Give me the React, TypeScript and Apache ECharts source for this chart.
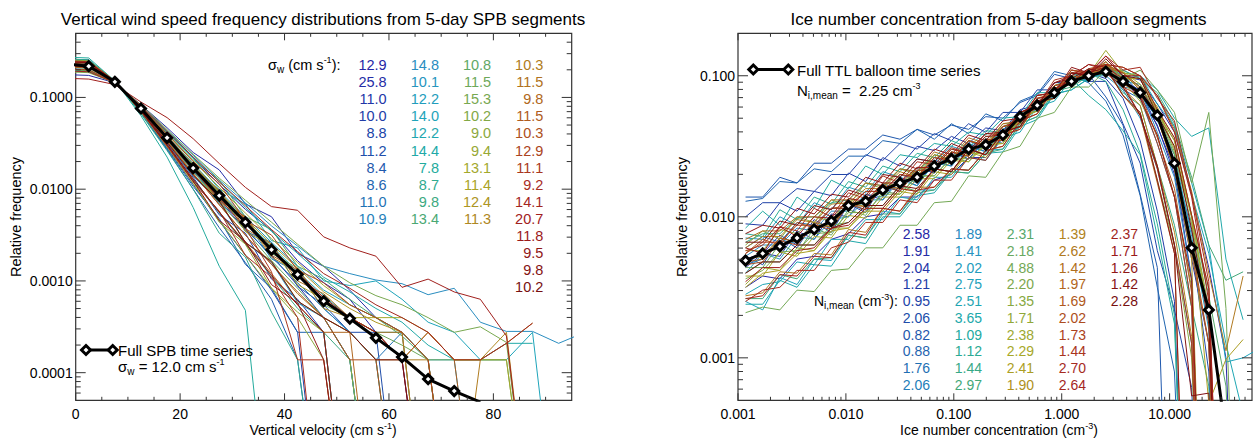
import { useEffect, useRef } from 'react';
import * as echarts from 'echarts';

const FONT = '"Liberation Sans", Arial, Helvetica, sans-serif';
const TXT = '#000';

// ---------------- Left panel: vertical wind speed (SPB) ----------------
const spbVelocityBins = [-2.5, 2.5, 7.5, 12.5, 17.5, 22.5, 27.5, 32.5, 37.5, 42.5, 47.5, 52.5, 57.5, 62.5, 67.5, 72.5, 77.5, 82.5, 87.5, 92.5, 97.5];
const spbXTickValues = [0, 20, 40, 60, 80];
const spbYTickValues = [0.0001, 0.001, 0.01, 0.1];
const spbYTickLabels = ['0.0001', '0.0010', '0.0100', '0.1000'];
const spbSigmaW = [
  12.9, 25.8, 11.0, 10.0, 8.8, 11.2, 8.4, 8.6, 11.0, 10.9,
  14.8, 10.1, 12.2, 14.0, 12.2, 14.4, 7.8, 8.7, 9.8, 13.4,
  10.8, 11.5, 15.3, 10.2, 9.0, 9.4, 13.1, 11.4, 12.4, 11.3,
  10.3, 11.5, 9.8, 11.5, 10.3, 12.9, 11.1, 9.2, 14.1, 20.7, 11.8, 9.5, 9.8, 10.2,
];
const spbFullSigma = 12.0;
// log10(relative frequency); -6 = below plotted range
const spbFullLog10 = [-0.63, -0.66, -0.83, -1.12, -1.44, -1.77, -2.07, -2.36, -2.66, -2.93, -3.22, -3.41, -3.62, -3.83, -4.07, -4.20, -4.32];
const spbSegmentsLog10 = [
  [-0.68, -0.70, -0.83, -1.10, -1.38, -1.66, -1.95, -2.22, -2.45, -2.78, -3.02, -3.20, -3.56, -3.86, -6],
  [-0.75, -0.76, -0.84, -1.08, -1.33, -1.60, -1.79, -2.16, -2.30, -2.70, -2.84, -3.10, -3.40, -3.56, -3.86, -6],
  [-0.65, -0.66, -0.83, -1.13, -1.46, -1.80, -2.12, -2.44, -2.72, -3.05, -3.40, -3.86, -6],
  [-0.62, -0.63, -0.83, -1.14, -1.50, -1.87, -2.28, -2.48, -2.98, -3.20, -3.56, -6],
  [-0.59, -0.60, -0.82, -1.16, -1.55, -1.95, -2.35, -2.72, -3.10, -3.56, -6],
  [-0.66, -0.67, -0.83, -1.12, -1.45, -1.78, -2.02, -2.46, -2.58, -3.06, -3.26, -3.56, -3.56, -6],
  [-0.58, -0.59, -0.82, -1.17, -1.57, -2.00, -2.42, -2.80, -3.20, -3.86, -6],
  [-0.60, -0.60, -0.82, -1.16, -1.56, -1.97, -2.32, -2.82, -3.08, -3.56, -3.56, -6],
  [-0.65, -0.66, -0.83, -1.12, -1.47, -1.80, -2.10, -2.42, -2.74, -3.02, -3.30, -3.56, -3.86, -3.56, -6],
  [-0.65, -0.66, -0.83, -1.13, -1.46, -1.78, -2.16, -2.34, -2.76, -2.90, -3.30, -3.56, -3.86, -6],
  [-0.71, -0.72, -0.84, -1.09, -1.36, -1.63, -1.90, -2.15, -2.40, -2.62, -2.84, -2.92, -2.99, -3.03, -3.15, -3.08, -3.45, -3.55, -3.55, -3.68, -3.56],
  [-0.62, -0.63, -0.83, -1.14, -1.50, -1.86, -2.14, -2.58, -2.80, -3.24, -3.40, -3.86, -6],
  [-0.67, -0.68, -0.83, -1.11, -1.42, -1.72, -2.02, -2.30, -2.58, -2.84, -3.10, -3.26, -3.40, -3.56, -3.86, -3.86, -6],
  [-0.70, -0.71, -0.84, -1.10, -1.38, -1.66, -2.00, -2.16, -2.56, -2.64, -3.00, -3.05, -3.00, -3.20, -3.45, -3.56, -3.86, -3.86, -3.56, -6],
  [-0.67, -0.68, -0.83, -1.11, -1.43, -1.74, -2.04, -2.34, -2.62, -2.90, -3.16, -3.40, -3.56, -3.56, -3.86, -6],
  [-0.71, -0.72, -0.84, -1.10, -1.38, -1.65, -1.92, -2.20, -2.46, -2.70, -2.96, -3.12, -3.30, -3.45, -3.70, -3.86, -3.86, -3.68, -3.68],
  [-0.56, -0.57, -0.82, -1.20, -1.65, -2.20, -2.84, -3.32, -6],
  [-0.58, -0.59, -0.82, -1.18, -1.58, -2.00, -2.48, -2.74, -3.34, -3.86, -6],
  [-0.61, -0.62, -0.83, -1.15, -1.52, -1.90, -2.26, -2.60, -2.95, -3.30, -3.56, -3.86, -6],
  [-0.70, -0.71, -0.84, -1.10, -1.39, -1.68, -1.90, -2.30, -2.44, -2.84, -2.98, -3.20, -3.40, -3.60, -3.86, -6],
  [-0.64, -0.65, -0.83, -1.13, -1.47, -1.81, -2.14, -2.45, -2.78, -3.08, -3.40, -3.56, -3.86, -6],
  [-0.66, -0.67, -0.83, -1.12, -1.44, -1.76, -2.12, -2.30, -2.70, -2.86, -3.26, -3.40, -3.56, -3.70, -3.86, -3.86, -3.86, -3.86, -6],
  [-0.72, -0.73, -0.84, -1.08, -1.35, -1.62, -1.88, -2.12, -2.36, -2.60, -2.84, -3.02, -3.16, -3.26, -3.40, -3.56, -3.50, -3.67, -6],
  [-0.63, -0.64, -0.83, -1.13, -1.48, -1.84, -2.12, -2.58, -2.78, -3.22, -3.40, -3.86, -6],
  [-0.59, -0.60, -0.82, -1.16, -1.54, -1.94, -2.34, -2.72, -3.08, -3.40, -3.86, -6],
  [-0.60, -0.61, -0.82, -1.15, -1.53, -1.92, -2.36, -2.60, -3.08, -3.34, -3.56, -6],
  [-0.69, -0.70, -0.84, -1.10, -1.40, -1.69, -1.98, -2.26, -2.54, -2.80, -3.05, -3.26, -3.40, -3.40, -3.56, -3.86, -3.86, -3.86, -6],
  [-0.65, -0.66, -0.83, -1.12, -1.45, -1.78, -2.03, -2.46, -2.62, -3.04, -3.20, -3.40, -3.40, -3.56, -6],
  [-0.67, -0.68, -0.83, -1.11, -1.42, -1.73, -2.03, -2.32, -2.60, -2.86, -3.12, -3.30, -3.45, -3.56, -3.86, -6],
  [-0.66, -0.67, -0.83, -1.12, -1.45, -1.77, -2.14, -2.32, -2.74, -2.90, -3.30, -3.40, -3.56, -3.86, -3.56, -3.86, -3.86, -3.56, -6],
  [-0.63, -0.64, -0.83, -1.13, -1.48, -1.83, -2.17, -2.50, -2.82, -3.14, -3.40, -3.56, -3.86, -3.86, -3.86, -6, -3.86, -3.68, -3.46],
  [-0.66, -0.67, -0.83, -1.12, -1.44, -1.76, -2.01, -2.43, -2.60, -3.00, -3.14, -3.40, -3.56, -3.56, -6],
  [-0.61, -0.62, -0.83, -1.15, -1.52, -1.89, -2.25, -2.58, -2.92, -3.26, -3.56, -3.56, -6],
  [-0.66, -0.67, -0.83, -1.12, -1.44, -1.76, -2.12, -2.30, -2.72, -2.88, -3.22, -3.40, -3.56, -3.86, -3.56, -3.86, -6],
  [-0.63, -0.64, -0.83, -1.13, -1.48, -1.83, -2.17, -2.50, -2.82, -3.12, -3.40, -3.86, -3.86, -6],
  [-0.69, -0.70, -0.84, -1.10, -1.40, -1.70, -1.94, -2.34, -2.50, -2.88, -3.02, -3.26, -3.40, -3.56, -3.86, -6],
  [-0.65, -0.66, -0.83, -1.12, -1.46, -1.79, -2.10, -2.42, -2.90, -3.86, -3.86, -6],
  [-0.60, -0.61, -0.82, -1.15, -1.53, -1.92, -2.24, -2.72, -2.96, -3.40, -6],
  [-0.71, -0.72, -0.84, -1.09, -1.37, -1.65, -1.92, -2.18, -2.44, -2.68, -2.92, -3.08, -3.26, -3.40, -3.56, -3.86, -3.86, -3.68, -3.46],
  [-0.79, -0.80, -0.86, -1.05, -1.22, -1.45, -1.72, -1.98, -2.19, -2.23, -2.52, -2.64, -2.73, -3.07, -2.98, -3.12, -3.20, -3.60, -6],
  [-0.66, -0.67, -0.83, -1.12, -1.44, -1.76, -2.06, -2.36, -2.65, -2.92, -3.18, -3.40, -3.56, -3.86, -6],
  [-0.61, -0.62, -0.82, -1.15, -1.52, -1.91, -2.34, -2.57, -3.04, -3.24, -3.86, -6],
  [-0.61, -0.62, -0.83, -1.15, -1.51, -1.89, -2.25, -2.59, -2.94, -3.26, -3.56, -6],
  [-0.63, -0.64, -0.83, -1.14, -1.49, -1.85, -2.13, -2.58, -2.79, -3.22, -3.40, -3.56, -3.86, -3.86, -6],
];

// ---------------- Right panel: ice number concentration (TTL) ----------------
const ttlConcBins = [
  0.001175, 0.001694, 0.002443, 0.003524, 0.005082, 0.007328, 0.01057, 0.01524, 0.02198, 0.0317,
  0.04571, 0.06592, 0.09506, 0.1371, 0.1977, 0.2851, 0.4111, 0.5929, 0.8551, 1.233,
  1.778, 2.564, 3.698, 5.333, 7.691, 11.09, 16.0, 23.07, 33.27, 47.97, 69.18,
];
const ttlXTickValues = [0.001, 0.01, 0.1, 1, 10];
const ttlXTickLabels = ['0.001', '0.010', '0.100', '1.000', '10.000'];
const ttlYTickValues = [0.001, 0.01, 0.1];
const ttlYTickLabels = ['0.001', '0.010', '0.100'];
const ttlNmean = [
  2.58, 1.91, 2.04, 1.21, 0.95, 2.06, 0.82, 0.88, 1.76, 2.06,
  1.89, 1.41, 2.02, 2.75, 2.51, 3.65, 1.09, 1.12, 1.44, 2.97,
  2.31, 2.18, 4.88, 2.20, 1.35, 1.71, 2.38, 2.29, 2.41, 1.90,
  1.39, 2.62, 1.42, 1.97, 1.69, 2.02, 1.73, 1.44, 2.70, 2.64,
  2.37, 1.71, 1.26, 1.42, 2.28,
];
const ttlFullNmean = 2.25;
const ttlFullLog10 = [-2.31, -2.26, -2.21, -2.15, -2.09, -2.03, -1.92, -1.89, -1.81, -1.76, -1.72, -1.64, -1.59, -1.52, -1.49, -1.42, -1.29, -1.21, -1.12, -1.04, -1.00, -0.97, -1.04, -1.12, -1.28, -1.62, -2.22, -2.66, -3.55];
const ttlSegmentsLog10 = [
  [-2.50, -2.42, -2.44, -2.30, -2.28, -2.16, -2.12, -2.00, -1.98, -1.86, -1.86, -1.74, -1.70, -1.58, -1.58, -1.44, -1.36, -1.22, -1.14, -1.02, -1.00, -0.93, -1.00, -1.03, -1.20, -1.40, -1.84, -2.36, -3.00, -6],
  [-2.30, -2.26, -2.13, -2.20, -2.02, -2.09, -1.91, -1.95, -1.78, -1.82, -1.65, -1.69, -1.54, -1.59, -1.45, -1.46, -1.28, -1.23, -1.09, -1.06, -0.98, -0.96, -1.04, -1.15, -1.35, -1.70, -2.30, -2.90, -6],
  [-2.36, -2.26, -2.28, -2.10, -2.16, -1.98, -2.00, -1.84, -1.88, -1.72, -1.78, -1.60, -1.64, -1.48, -1.54, -1.38, -1.34, -1.18, -1.14, -1.00, -1.02, -0.95, -1.04, -1.10, -1.36, -1.66, -2.44, -6],
  [-2.05, -2.06, -1.90, -1.96, -1.82, -1.85, -1.69, -1.75, -1.58, -1.64, -1.50, -1.53, -1.43, -1.48, -1.37, -1.39, -1.24, -1.21, -1.05, -1.04, -0.98, -1.02, -1.16, -1.46, -1.96, -2.60, -6],
  [-2.00, -1.90, -1.90, -1.80, -1.82, -1.70, -1.70, -1.56, -1.60, -1.48, -1.52, -1.41, -1.46, -1.34, -1.40, -1.26, -1.26, -1.10, -1.10, -0.98, -1.04, -1.04, -1.34, -1.62, -2.24, -2.66, -3.21, -6],
  [-2.28, -2.34, -2.15, -2.22, -2.04, -2.11, -1.91, -1.97, -1.76, -1.82, -1.65, -1.69, -1.54, -1.59, -1.45, -1.48, -1.28, -1.23, -1.09, -1.04, -1.00, -0.95, -1.00, -1.12, -1.30, -1.62, -2.20, -3.10, -6],
  [-1.86, -1.86, -1.72, -1.76, -1.62, -1.62, -1.52, -1.52, -1.42, -1.45, -1.38, -1.42, -1.35, -1.38, -1.29, -1.30, -1.19, -1.14, -0.99, -1.02, -0.99, -1.15, -1.35, -1.84, -2.36, -6],
  [-1.89, -1.87, -1.75, -1.76, -1.66, -1.68, -1.57, -1.57, -1.46, -1.48, -1.38, -1.45, -1.34, -1.41, -1.27, -1.32, -1.18, -1.13, -0.97, -1.00, -1.05, -1.18, -1.42, -1.85, -2.50, -3.10, -6],
  [-2.22, -2.14, -2.18, -2.04, -2.06, -1.94, -1.94, -1.82, -1.82, -1.70, -1.74, -1.58, -1.62, -1.46, -1.52, -1.36, -1.34, -1.16, -1.14, -0.98, -1.00, -0.95, -1.10, -1.16, -1.48, -1.86, -2.64, -6],
  [-2.34, -2.30, -2.17, -2.18, -2.06, -2.07, -1.91, -1.95, -1.78, -1.80, -1.67, -1.67, -1.56, -1.57, -1.45, -1.46, -1.28, -1.25, -1.09, -1.06, -1.00, -0.97, -1.02, -1.14, -1.30, -1.62, -2.10, -2.70, -6],
  [-2.28, -2.20, -2.20, -2.08, -2.10, -1.96, -1.96, -1.84, -1.86, -1.72, -1.76, -1.60, -1.62, -1.48, -1.52, -1.38, -1.36, -1.18, -1.16, -1.00, -1.02, -0.95, -1.08, -1.10, -1.40, -1.72, -2.44, -6],
  [-2.15, -2.16, -2.00, -2.06, -1.90, -1.95, -1.79, -1.83, -1.68, -1.72, -1.59, -1.61, -1.50, -1.54, -1.43, -1.44, -1.28, -1.25, -1.09, -1.06, -1.00, -1.00, -1.10, -1.30, -1.66, -2.20, -2.90, -6],
  [-2.40, -2.26, -2.30, -2.14, -2.16, -2.02, -2.00, -1.88, -1.88, -1.74, -1.78, -1.62, -1.64, -1.50, -1.54, -1.38, -1.36, -1.18, -1.16, -1.00, -1.04, -0.92, -1.04, -1.06, -1.32, -1.56, -2.14, -2.80, -6],
  [-2.60, -2.66, -2.43, -2.48, -2.30, -2.31, -2.13, -2.15, -1.96, -1.98, -1.81, -1.81, -1.66, -1.67, -1.53, -1.52, -1.34, -1.29, -1.13, -1.10, -1.02, -0.98, -0.96, -1.02, -1.14, -1.36, -1.76, -2.20, -3.03, -3.00, -2.93],
  [-2.55, -2.48, -2.46, -2.32, -2.34, -2.16, -2.16, -2.02, -2.02, -1.86, -1.88, -1.72, -1.72, -1.58, -1.60, -1.44, -1.40, -1.22, -1.18, -1.02, -1.04, -0.92, -1.02, -1.00, -1.20, -1.36, -1.84, -2.26, -2.90, -3.40],
  [-2.62, -2.62, -2.45, -2.50, -2.34, -2.35, -2.17, -2.19, -2.00, -2.00, -1.85, -1.83, -1.68, -1.69, -1.55, -1.54, -1.36, -1.31, -1.13, -1.10, -1.02, -0.98, -0.98, -1.00, -1.10, -1.30, -1.43, -1.37, -2.30, -2.73],
  [-2.08, -1.96, -2.06, -1.86, -1.94, -1.74, -1.80, -1.64, -1.70, -1.56, -1.58, -1.48, -1.50, -1.40, -1.42, -1.30, -1.29, -1.12, -1.12, -1.02, -1.14, -1.24, -1.39, -1.56, -2.14, -2.76, -6],
  [-2.12, -2.14, -1.95, -2.02, -1.86, -1.91, -1.75, -1.79, -1.64, -1.68, -1.55, -1.58, -1.46, -1.51, -1.39, -1.40, -1.26, -1.23, -1.07, -1.02, -0.98, -1.04, -1.24, -1.55, -2.05, -2.70, -6],
  [-2.18, -2.12, -2.12, -2.01, -2.00, -1.90, -1.88, -1.76, -1.78, -1.66, -1.68, -1.56, -1.59, -1.46, -1.50, -1.36, -1.36, -1.18, -1.16, -0.98, -1.02, -0.96, -1.12, -1.21, -1.64, -2.06, -2.64, -3.20, -6],
  [-2.58, -2.58, -2.41, -2.44, -2.30, -2.29, -2.13, -2.15, -1.98, -1.98, -1.83, -1.81, -1.68, -1.69, -1.55, -1.52, -1.34, -1.29, -1.11, -1.08, -1.00, -0.96, -0.96, -1.02, -1.12, -1.34, -1.72, -2.20, -2.45, -2.39],
  [-2.40, -2.32, -2.32, -2.20, -2.20, -2.06, -2.04, -1.92, -1.92, -1.78, -1.82, -1.66, -1.68, -1.52, -1.56, -1.40, -1.36, -1.18, -1.16, -1.00, -1.02, -0.90, -1.02, -1.02, -1.26, -1.46, -1.99, -2.56, -3.20, -6],
  [-2.36, -2.36, -2.19, -2.26, -2.08, -2.13, -1.95, -1.99, -1.82, -1.84, -1.71, -1.71, -1.58, -1.61, -1.47, -1.48, -1.30, -1.25, -1.09, -1.06, -0.98, -0.95, -1.00, -1.08, -1.26, -1.56, -2.05, -2.70, -6],
  [-2.68, -2.64, -2.66, -2.52, -2.53, -2.38, -2.37, -2.22, -2.22, -2.06, -2.06, -1.90, -1.89, -1.71, -1.72, -1.54, -1.50, -1.30, -1.26, -1.08, -1.08, -0.96, -1.02, -0.96, -1.10, -1.26, -1.76, -1.26, -2.65, -6],
  [-2.44, -2.38, -2.25, -2.24, -2.12, -2.11, -1.97, -1.97, -1.84, -1.84, -1.71, -1.71, -1.58, -1.59, -1.49, -1.48, -1.28, -1.25, -1.09, -1.06, -0.98, -0.94, -0.98, -1.08, -1.24, -1.54, -2.00, -2.65, -6],
  [-2.20, -2.10, -2.16, -2.00, -2.04, -1.88, -1.92, -1.76, -1.80, -1.66, -1.70, -1.56, -1.60, -1.46, -1.50, -1.34, -1.34, -1.18, -1.14, -0.98, -1.00, -0.94, -1.14, -1.26, -1.74, -2.21, -3.00, -6],
  [-2.24, -2.24, -2.09, -2.12, -2.00, -2.03, -1.87, -1.91, -1.76, -1.78, -1.65, -1.65, -1.52, -1.55, -1.43, -1.44, -1.26, -1.23, -1.07, -1.04, -0.98, -0.96, -1.04, -1.18, -1.42, -1.86, -2.50, -6],
  [-2.48, -2.36, -2.38, -2.22, -2.24, -2.08, -2.08, -1.94, -1.94, -1.80, -1.82, -1.66, -1.68, -1.54, -1.56, -1.40, -1.36, -1.18, -1.14, -0.98, -0.99, -0.82, -0.98, -1.00, -1.24, -1.44, -1.99, -2.51, -6],
  [-2.42, -2.42, -2.25, -2.28, -2.14, -2.15, -1.99, -2.01, -1.86, -1.86, -1.73, -1.73, -1.60, -1.61, -1.49, -1.48, -1.30, -1.25, -1.09, -1.04, -0.96, -0.93, -0.97, -1.06, -1.22, -1.52, -2.00, -2.70, -6],
  [-2.50, -2.40, -2.38, -2.26, -2.24, -2.10, -2.08, -1.96, -1.96, -1.82, -1.84, -1.68, -1.70, -1.54, -1.58, -1.42, -1.38, -1.20, -1.16, -1.00, -1.02, -0.90, -1.02, -1.02, -1.26, -1.46, -2.00, -3.32, -3.01, -2.87],
  [-2.30, -2.28, -2.15, -2.18, -2.04, -2.07, -1.89, -1.93, -1.78, -1.80, -1.65, -1.67, -1.54, -1.57, -1.45, -1.46, -1.28, -1.23, -1.07, -1.04, -0.96, -0.92, -0.98, -1.10, -1.30, -1.66, -2.30, -6],
  [-2.22, -2.14, -2.14, -2.02, -2.04, -1.91, -1.90, -1.80, -1.80, -1.68, -1.72, -1.56, -1.60, -1.46, -1.49, -1.36, -1.34, -1.16, -1.14, -0.96, -0.98, -0.94, -1.09, -1.21, -1.64, -2.11, -2.85, -6],
  [-2.56, -2.54, -2.39, -2.40, -2.26, -2.27, -2.09, -2.11, -1.94, -1.96, -1.79, -1.79, -1.66, -1.67, -1.53, -1.50, -1.32, -1.27, -1.09, -1.04, -0.96, -0.92, -0.94, -1.00, -1.14, -1.38, -1.82, -2.40, -2.95, -2.42],
  [-2.16, -2.10, -2.10, -2.00, -2.00, -1.88, -1.88, -1.76, -1.78, -1.66, -1.68, -1.54, -1.58, -1.44, -1.48, -1.34, -1.32, -1.16, -1.12, -0.96, -0.99, -0.95, -1.14, -1.28, -1.76, -2.26, -6],
  [-2.32, -2.30, -2.15, -2.18, -2.06, -2.07, -1.91, -1.93, -1.78, -1.80, -1.67, -1.67, -1.54, -1.57, -1.45, -1.46, -1.28, -1.23, -1.07, -1.04, -0.96, -0.94, -0.98, -1.10, -1.30, -1.66, -2.26, -2.90, -6],
  [-2.26, -2.16, -2.20, -2.04, -2.08, -1.94, -1.92, -1.82, -1.82, -1.70, -1.72, -1.58, -1.60, -1.46, -1.50, -1.36, -1.32, -1.14, -1.12, -0.96, -0.98, -0.90, -1.06, -1.12, -1.44, -1.80, -2.54, -6],
  [-2.34, -2.32, -2.17, -2.20, -2.06, -2.09, -1.91, -1.95, -1.78, -1.82, -1.67, -1.67, -1.54, -1.57, -1.45, -1.46, -1.28, -1.23, -1.07, -1.04, -0.95, -0.92, -0.98, -1.08, -1.28, -1.64, -2.20, -2.90, -6],
  [-2.26, -2.18, -2.18, -2.06, -2.06, -1.94, -1.94, -1.82, -1.82, -1.70, -1.72, -1.58, -1.60, -1.46, -1.50, -1.36, -1.32, -1.14, -1.12, -0.96, -0.98, -0.92, -1.08, -1.14, -1.48, -1.86, -2.64, -6],
  [-2.24, -2.20, -2.07, -2.10, -1.94, -2.00, -1.83, -1.87, -1.71, -1.76, -1.61, -1.63, -1.51, -1.55, -1.41, -1.42, -1.26, -1.21, -1.03, -1.00, -0.92, -0.96, -1.06, -1.28, -1.66, -2.20, -2.90, -6],
  [-2.60, -2.52, -2.50, -2.38, -2.38, -2.22, -2.18, -2.04, -2.04, -1.88, -1.90, -1.74, -1.74, -1.58, -1.60, -1.42, -1.38, -1.18, -1.14, -0.98, -0.98, -0.86, -0.96, -0.94, -1.16, -1.32, -1.84, -2.46, -6],
  [-2.58, -2.56, -2.41, -2.42, -2.28, -2.29, -2.11, -2.13, -1.94, -1.96, -1.81, -1.79, -1.66, -1.67, -1.53, -1.50, -1.32, -1.27, -1.09, -1.04, -0.96, -0.92, -0.94, -1.00, -1.14, -1.40, -1.86, -2.60, -6],
  [-2.46, -2.36, -2.36, -2.24, -2.22, -2.08, -2.06, -1.94, -1.94, -1.80, -1.82, -1.66, -1.68, -1.52, -1.56, -1.40, -1.36, -1.16, -1.14, -0.98, -0.99, -0.86, -1.00, -1.00, -1.24, -1.44, -1.99, -2.51, -6],
  [-2.22, -2.26, -2.07, -2.14, -2.00, -2.01, -1.87, -1.89, -1.76, -1.76, -1.65, -1.65, -1.52, -1.55, -1.43, -1.42, -1.26, -1.21, -1.05, -1.00, -0.92, -0.94, -1.02, -1.16, -1.42, -1.86, -2.45, -6],
  [-2.12, -2.06, -2.08, -1.94, -1.98, -1.84, -1.86, -1.72, -1.76, -1.62, -1.66, -1.52, -1.56, -1.42, -1.46, -1.32, -1.30, -1.14, -1.12, -0.94, -0.98, -0.94, -1.14, -1.26, -1.74, -2.26, -6],
  [-2.18, -2.18, -2.03, -2.06, -1.92, -1.95, -1.81, -1.85, -1.70, -1.72, -1.59, -1.61, -1.48, -1.53, -1.41, -1.40, -1.26, -1.21, -1.05, -1.02, -0.95, -0.98, -1.08, -1.28, -1.64, -2.20, -3.27, -3.25, -6],
  [-2.40, -2.32, -2.32, -2.20, -2.20, -2.08, -2.04, -1.92, -1.92, -1.78, -1.80, -1.66, -1.68, -1.52, -1.56, -1.40, -1.36, -1.18, -1.16, -0.98, -1.00, -0.88, -1.00, -1.02, -1.28, -1.50, -2.09, -2.76, -6],
];

// ---------------- styling helpers ----------------
const STOPS: [number, string][] = [
  [0.0, '#2626a6'], [0.1, '#2046a8'], [0.18, '#1e6eb2'], [0.23, '#2a8cc0'], [0.3, '#1ea4bb'],
  [0.37, '#22ab9e'], [0.44, '#48a874'], [0.47, '#66a862'], [0.55, '#88a840'], [0.62, '#aaa826'],
  [0.68, '#b08420'], [0.76, '#b06020'], [0.85, '#a83020'], [0.92, '#a01c1c'], [1.0, '#781010'],
];
function hexRgb(h: string) {
  return [parseInt(h.slice(1, 3), 16), parseInt(h.slice(3, 5), 16), parseInt(h.slice(5, 7), 16)];
}
function colorAt(i: number, n: number) {
  const t = n > 1 ? i / (n - 1) : 0;
  for (let s = 1; s < STOPS.length; s++) {
    if (t <= STOPS[s][0] + 1e-9) {
      const [t0, c0] = STOPS[s - 1];
      const [t1, c1] = STOPS[s];
      const f = (t - t0) / (t1 - t0);
      const a = hexRgb(c0), b = hexRgb(c1);
      return `rgb(${Math.round(a[0] + (b[0] - a[0]) * f)},${Math.round(a[1] + (b[1] - a[1]) * f)},${Math.round(a[2] + (b[2] - a[2]) * f)})`;
    }
  }
  return STOPS[STOPS.length - 1][1];
}
function logMinor(min: number, max: number) {
  const out: number[] = [];
  for (let e = Math.floor(Math.log10(min)) - 1; e <= Math.ceil(Math.log10(max)); e++) {
    for (let m = 2; m <= 9; m++) {
      const v = m * Math.pow(10, e);
      if (v > min * 1.0001 && v < max * 0.9999) out.push(v);
    }
  }
  return out;
}
function labelFor(values: number[], labels: string[]) {
  return (v: number) => {
    for (let i = 0; i < values.length; i++) {
      if (Math.abs(v - values[i]) <= Math.abs(values[i]) * 1e-6 + 1e-12) return labels[i];
    }
    return '';
  };
}

const L = { left: 75.7, top: 33.3, width: 496, height: 367, xr: [0, 95] as [number, number], yr: [5e-5, 0.5] as [number, number] };
const R = { left: 738, top: 33.3, width: 517.8, height: 367, xr: [0.001, 58] as [number, number], yr: [5e-4, 0.2] as [number, number] };

function tickSeries(idx: number, xr: [number, number], yr: [number, number], xMaj: number[], xMin: number[], yMaj: number[], yMin: number[]) {
  const items: number[][] = [];
  xMaj.forEach((v) => items.push([xr[0], yr[0], v, 0, 1]));
  xMin.forEach((v) => items.push([xr[0], yr[0], v, 0, 0]));
  yMaj.forEach((v) => items.push([xr[0], yr[0], v, 1, 1]));
  yMin.forEach((v) => items.push([xr[0], yr[0], v, 1, 0]));
  return {
    type: 'custom', xAxisIndex: idx, yAxisIndex: idx, silent: true, z: 6, clip: false,
    encode: { x: 0, y: 1 }, data: items,
    renderItem: (_p: any, api: any) => {
      const v = api.value(2);
      const isY = api.value(3) === 1;
      const major = api.value(4) === 1;
      const style = { stroke: '#333', lineWidth: 1 };
      if (!isY) {
        const len = major ? 7 : 3.5;
        const b = api.coord([v, yr[0]]);
        const t = api.coord([v, yr[1]]);
        return { type: 'group', children: [
          { type: 'line', shape: { x1: b[0], y1: b[1], x2: b[0], y2: b[1] - len }, style },
          { type: 'line', shape: { x1: t[0], y1: t[1], x2: t[0], y2: t[1] + len }, style },
        ] };
      }
      const len = major ? 10 : 5;
      const l = api.coord([xr[0], v]);
      const r = api.coord([xr[1], v]);
      return { type: 'group', children: [
        { type: 'line', shape: { x1: l[0], y1: l[1], x2: l[0] + len, y2: l[1] }, style },
        { type: 'line', shape: { x1: r[0], y1: r[1], x2: r[0] - len, y2: r[1] }, style },
      ] };
    },
  };
}

function txt(x: number, y: number, text: string, size: number, opts: any = {}) {
  const fill = opts.color || TXT;
  return {
    type: 'text', x, y, rotation: opts.rotation || 0, silent: true, z: 100,
    style: {
      text, fill, fontSize: size, fontFamily: FONT,
      align: opts.align || 'left', textAlign: opts.align || 'left',
      verticalAlign: 'middle', textVerticalAlign: 'middle',
      lineHeight: size + 4,
      rich: {
        sup: { fontSize: Math.round(size * 0.62), fontFamily: FONT, fill, color: fill, verticalAlign: 'top', lineHeight: size * 0.7 },
        sub: { fontSize: Math.round(size * 0.68), fontFamily: FONT, fill, color: fill, verticalAlign: 'bottom', lineHeight: size * 0.7 },
      },
    },
  };
}
function diamond(cx: number, cy: number, r: number) {
  return { type: 'polygon', silent: true, z: 101, shape: { points: [[cx, cy - r], [cx + r, cy], [cx, cy + r], [cx - r, cy]] }, style: { fill: '#fff', stroke: '#000', lineWidth: 3 } };
}

function axisLabelStyle(formatter: any, margin: number) {
  return { formatter, fontSize: 14, color: TXT, fontFamily: FONT, margin, showMinLabel: true, showMaxLabel: true };
}

export default function App() {
  const ref = useRef<HTMLDivElement>(null);
  useEffect(() => {
    if (!ref.current) return;
    const chart = echarts.init(ref.current, undefined, { renderer: 'svg' });

    const spbSeries: any[] = spbSegmentsLog10.map((seg, i) => ({
      type: 'line', xAxisIndex: 0, yAxisIndex: 0, silent: true, symbol: 'none', clip: true, z: 2,
      data: seg.map((v, j) => [spbVelocityBins[j], Math.pow(10, v)]),
      lineStyle: { width: 1, color: colorAt(i, spbSegmentsLog10.length) },
    }));
    spbSeries.push({
      type: 'line', xAxisIndex: 0, yAxisIndex: 0, silent: true, clip: true, z: 4,
      symbol: 'diamond', symbolSize: 9, showSymbol: true,
      data: spbFullLog10.map((v, j) => [spbVelocityBins[j], Math.pow(10, v)]),
      lineStyle: { width: 3, color: '#000' },
      itemStyle: { color: '#fff', borderColor: '#000', borderWidth: 3 },
    });
    const ttlSeries: any[] = ttlSegmentsLog10.map((seg, i) => ({
      type: 'line', xAxisIndex: 1, yAxisIndex: 1, silent: true, symbol: 'none', clip: true, z: 2,
      data: seg.map((v, j) => [ttlConcBins[j], Math.pow(10, v)]),
      lineStyle: { width: 1, color: colorAt(i, ttlSegmentsLog10.length) },
    }));
    ttlSeries.push({
      type: 'line', xAxisIndex: 1, yAxisIndex: 1, silent: true, clip: true, z: 4,
      symbol: 'diamond', symbolSize: 9, showSymbol: true,
      data: ttlFullLog10.map((v, j) => [ttlConcBins[j], Math.pow(10, v)]),
      lineStyle: { width: 3, color: '#000' },
      itemStyle: { color: '#fff', borderColor: '#000', borderWidth: 3 },
    });

    const spbXMinor: number[] = [];
    for (let v = 5; v < 95; v += 5) if (v % 20 !== 0) spbXMinor.push(v);

    const graphics: any[] = [];
    graphics.push(txt(323, 19, 'Vertical wind speed frequency distributions from 5-day SPB segments', 17, { align: 'center' }));
    graphics.push(txt(998.5, 19, 'Ice number concentration from 5-day balloon segments', 17, { align: 'center' }));
    graphics.push(txt(323, 430, 'Vertical velocity (cm s{sup|-1})', 14, { align: 'center' }));
    graphics.push(txt(999, 430, 'Ice number concentration (cm{sup|-3})', 14, { align: 'center' }));
    graphics.push(txt(16, 217, 'Relative frequency', 14.5, { align: 'center', rotation: Math.PI / 2 }));
    graphics.push(txt(682, 217, 'Relative frequency', 14.5, { align: 'center', rotation: Math.PI / 2 }));

    // left legend
    graphics.push(txt(268, 65, 'σ{sub|w} (cm s{sup|-1}):', 14.5));
    const spbColX = [386.7, 439, 491.2, 543.3];
    spbSigmaW.forEach((s, i) => {
      const col = i < 30 ? Math.floor(i / 10) : 3;
      const row = i < 30 ? i % 10 : i - 30;
      graphics.push(txt(spbColX[col], 65 + 17.1 * row, s.toFixed(1), 14.5, { align: 'right', color: colorAt(i, spbSigmaW.length) }));
    });
    graphics.push({ type: 'line', silent: true, z: 100, shape: { x1: 86, y1: 350, x2: 112.7, y2: 350 }, style: { stroke: '#000', lineWidth: 3 } });
    graphics.push(diamond(86, 350, 4.5));
    graphics.push(diamond(112.7, 350, 4.5));
    graphics.push(txt(118, 350, 'Full SPB time series', 15));
    graphics.push(txt(118, 366.5, `σ{sub|w} = ${spbFullSigma.toFixed(1)} cm s{sup|-1}`, 15));

    // right legend
    graphics.push({ type: 'line', silent: true, z: 100, shape: { x1: 753.3, y1: 69.5, x2: 788.3, y2: 69.5 }, style: { stroke: '#000', lineWidth: 3 } });
    graphics.push(diamond(753.3, 69.5, 4.5));
    graphics.push(diamond(788.3, 69.5, 4.5));
    graphics.push(txt(797, 70, 'Full TTL balloon time series', 15));
    graphics.push(txt(797, 90.5, `N{sub|i,mean} =  ${ttlFullNmean.toFixed(2)} cm{sup|-3}`, 15));
    graphics.push(txt(814, 301, 'N{sub|i,mean} (cm{sup|-3}):', 14));
    const ttlColX = [930, 982, 1034, 1086, 1138];
    ttlNmean.forEach((n, i) => {
      const col = Math.floor(i / 10);
      const row = i % 10;
      graphics.push(txt(ttlColX[col], 234 + 16.78 * row, n.toFixed(2), 14, { align: 'right', color: colorAt(i, ttlNmean.length) }));
    });

    const option: any = {
      animation: false,
      backgroundColor: '#fff',
      textStyle: { fontFamily: FONT },
      grid: [
        { left: L.left, top: L.top, width: L.width, height: L.height, show: true, borderColor: '#333', borderWidth: 1.2, backgroundColor: 'transparent' },
        { left: R.left, top: R.top, width: R.width, height: R.height, show: true, borderColor: '#333', borderWidth: 1.2, backgroundColor: 'transparent' },
      ],
      xAxis: [
        { type: 'value', gridIndex: 0, min: L.xr[0], max: L.xr[1], interval: 20, axisLine: { show: false }, axisTick: { show: false }, splitLine: { show: false },
          axisLabel: axisLabelStyle(labelFor(spbXTickValues, spbXTickValues.map(String)), 7) },
        { type: 'log', logBase: 10, gridIndex: 1, min: R.xr[0], max: R.xr[1], axisLine: { show: false }, axisTick: { show: false }, splitLine: { show: false }, minorTick: { show: false },
          axisLabel: axisLabelStyle(labelFor(ttlXTickValues, ttlXTickLabels), 7) },
      ],
      yAxis: [
        { type: 'log', logBase: 10, gridIndex: 0, min: L.yr[0], max: L.yr[1], axisLine: { show: false }, axisTick: { show: false }, splitLine: { show: false }, minorTick: { show: false },
          axisLabel: axisLabelStyle(labelFor(spbYTickValues, spbYTickLabels), 3) },
        { type: 'log', logBase: 10, gridIndex: 1, min: R.yr[0], max: R.yr[1], axisLine: { show: false }, axisTick: { show: false }, splitLine: { show: false }, minorTick: { show: false },
          axisLabel: axisLabelStyle(labelFor(ttlYTickValues, ttlYTickLabels), 3) },
      ],
      series: [
        ...spbSeries,
        ...ttlSeries,
        tickSeries(0, L.xr, L.yr, spbXTickValues, spbXMinor, spbYTickValues, logMinor(L.yr[0], L.yr[1])),
        tickSeries(1, R.xr, R.yr, ttlXTickValues, logMinor(R.xr[0], R.xr[1]), ttlYTickValues, logMinor(R.yr[0], R.yr[1])),
      ],
      graphic: { elements: graphics },
    };
    chart.setOption(option);
    return () => chart.dispose();
  }, []);
  return <div ref={ref} style={{ position: 'fixed', left: 0, top: 0, width: 1255, height: 440, background: '#fff' }} />;
}
